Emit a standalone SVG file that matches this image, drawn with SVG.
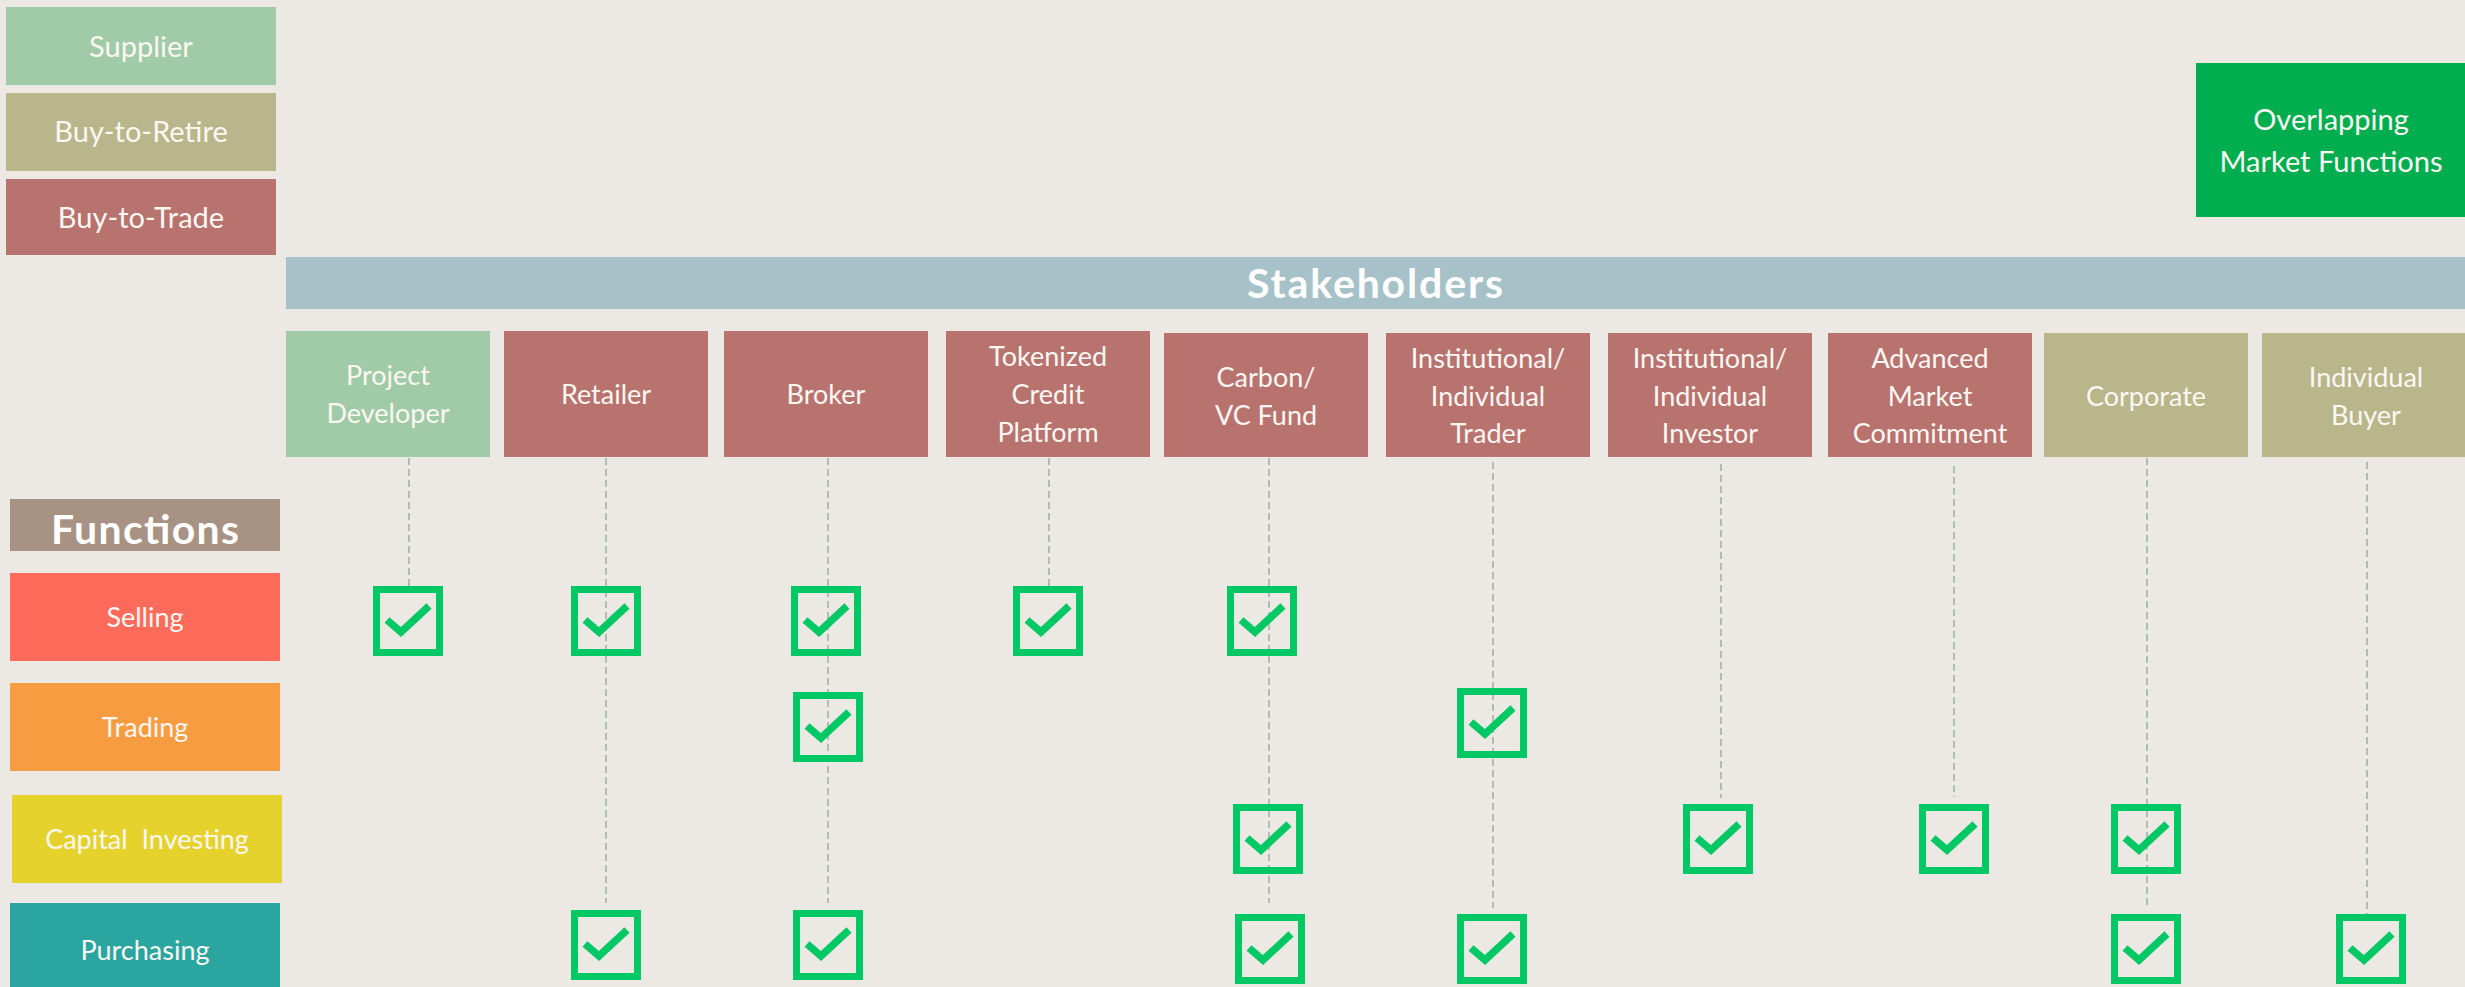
<svg xmlns="http://www.w3.org/2000/svg" xmlns:xlink="http://www.w3.org/1999/xlink" width="2465" height="987" viewBox="0 0 2465 987">
  <style>
    text { font-family: Lato, "Open Sans", "DejaVu Sans", sans-serif; fill: #fbf7f3; text-anchor: middle; }
    .lbl { font-size: 27px; }
    .leg { font-size: 29px; }
    .hdr { font-size: 41px; font-weight: bold; fill: #ffffff; }
    .supplier { fill: #a0cba6; }
    .retire { fill: #b9b68b; }
    .trade { fill: #b8736e; }
    .dash { stroke: #9db3ab; stroke-width: 1.6; stroke-dasharray: 7 4; fill: none; }
    .chk-box { fill: none; stroke: #00c864; stroke-width: 7; }
    .chk-mark { fill: none; stroke: #00c864; stroke-width: 7.5; stroke-linejoin: miter; stroke-linecap: butt; }
  </style>
  <defs>
    <g id="chk">
      <rect class="chk-box" x="3.5" y="3.5" width="63" height="63"/>
      <polyline class="chk-mark" points="14,34 28,46 56,20"/>
    </g>
  </defs>

  <rect width="2465" height="987" fill="#ece9e4"/>

  <!-- legend -->
  <g id="legend-supplier">
    <rect class="supplier" x="6" y="7" width="270" height="78"/>
    <text class="leg" x="141" y="57">Supplier</text>
  </g>
  <g id="legend-retire">
    <rect class="retire" x="6" y="93" width="270" height="78"/>
    <text class="leg" x="141" y="142">Buy-to-Retire</text>
  </g>
  <g id="legend-trade">
    <rect class="trade" x="6" y="179" width="270" height="76"/>
    <text class="leg" x="141" y="228">Buy-to-Trade</text>
  </g>
  <g id="overlap-key">
    <rect x="2196" y="63" width="269" height="154" fill="#00ae4f"/>
    <text class="leg" x="2331" y="130">Overlapping</text>
    <text class="leg" x="2331" y="172">Market Functions</text>
  </g>

  <!-- column header -->
  <g id="stakeholders-header">
    <rect x="286" y="257" width="2179" height="52" fill="#a6c2c8"/>
    <text class="hdr" x="1375" y="298" textLength="256" lengthAdjust="spacing">Stakeholders</text>
  </g>

  <!-- stakeholder columns -->
  <g id="project-developer">
    <rect class="supplier" x="286" y="331" width="204" height="126"/>
    <text class="lbl" x="388" y="385">Project</text>
    <text class="lbl" x="388" y="423">Developer</text>
  </g>
  <g id="retailer">
    <rect class="trade" x="504" y="331" width="204" height="126"/>
    <text class="lbl" x="606" y="404">Retailer</text>
  </g>
  <g id="broker">
    <rect class="trade" x="724" y="331" width="204" height="126"/>
    <text class="lbl" x="826" y="404">Broker</text>
  </g>
  <g id="tokenized-platform">
    <rect class="trade" x="946" y="331" width="204" height="126"/>
    <text class="lbl" x="1048" y="366">Tokenized</text>
    <text class="lbl" x="1048" y="404">Credit</text>
    <text class="lbl" x="1048" y="442">Platform</text>
  </g>
  <g id="carbon-vc-fund">
    <rect class="trade" x="1164" y="333" width="204" height="124"/>
    <text class="lbl" x="1266" y="387">Carbon/</text>
    <text class="lbl" x="1266" y="425">VC Fund</text>
  </g>
  <g id="institutional-trader">
    <rect class="trade" x="1386" y="333" width="204" height="124"/>
    <text class="lbl" x="1488" y="368">Institutional/</text>
    <text class="lbl" x="1488" y="406">Individual</text>
    <text class="lbl" x="1488" y="443">Trader</text>
  </g>
  <g id="institutional-investor">
    <rect class="trade" x="1608" y="333" width="204" height="124"/>
    <text class="lbl" x="1710" y="368">Institutional/</text>
    <text class="lbl" x="1710" y="406">Individual</text>
    <text class="lbl" x="1710" y="443">Investor</text>
  </g>
  <g id="advanced-market-commitment">
    <rect class="trade" x="1828" y="333" width="204" height="124"/>
    <text class="lbl" x="1930" y="368">Advanced</text>
    <text class="lbl" x="1930" y="406">Market</text>
    <text class="lbl" x="1930" y="443">Commitment</text>
  </g>
  <g id="corporate">
    <rect class="retire" x="2044" y="333" width="204" height="124"/>
    <text class="lbl" x="2146" y="406">Corporate</text>
  </g>
  <g id="individual-buyer">
    <rect class="retire" x="2262" y="333" width="203" height="124"/>
    <text class="lbl" x="2366" y="387">Individual</text>
    <text class="lbl" x="2366" y="425">Buyer</text>
  </g>

  <!-- function rows -->
  <g id="functions-header">
    <rect x="10" y="499" width="270" height="52" fill="#a89283"/>
    <text x="145" y="544" style="font-size:41px;font-weight:bold;fill:#ffffff" textLength="188" lengthAdjust="spacing">Functions</text>
  </g>
  <g id="selling">
    <rect x="10" y="573" width="270" height="88" fill="#ff6b5a"/>
    <text class="lbl" x="145" y="627">Selling</text>
  </g>
  <g id="trading">
    <rect x="10" y="683" width="270" height="88" fill="#f89c42"/>
    <text class="lbl" x="145" y="737">Trading</text>
  </g>
  <g id="capital-investing">
    <rect x="12" y="795" width="270" height="88" fill="#e6d22d"/>
    <text class="lbl" x="147" y="849" style="white-space:pre">Capital  Investing</text>
  </g>
  <g id="purchasing">
    <rect x="10" y="903" width="270" height="84" fill="#2aa5a0"/>
    <text class="lbl" x="145" y="960">Purchasing</text>
  </g>

  <!-- dashed drop lines from each stakeholder -->
  <g id="connectors">
    <line class="dash" x1="409" y1="458" x2="409" y2="586"/>
    <line class="dash" x1="606" y1="458" x2="606" y2="903"/>
    <line class="dash" x1="828" y1="458" x2="828" y2="903"/>
    <line class="dash" x1="1049" y1="458" x2="1049" y2="586"/>
    <line class="dash" x1="1269" y1="458" x2="1269" y2="903"/>
    <line class="dash" x1="1493" y1="462" x2="1493" y2="908"/>
    <line class="dash" x1="1721" y1="464" x2="1721" y2="798"/>
    <line class="dash" x1="1954" y1="466" x2="1954" y2="797"/>
    <line class="dash" x1="2147" y1="458" x2="2147" y2="909"/>
    <line class="dash" x1="2367" y1="462" x2="2367" y2="914"/>
  </g>

  <!-- check marks -->
  <g id="checks">
    <use xlink:href="#chk" x="373" y="586"/>
    <use xlink:href="#chk" x="571" y="586"/>
    <use xlink:href="#chk" x="791" y="586"/>
    <use xlink:href="#chk" x="1013" y="586"/>
    <use xlink:href="#chk" x="1227" y="586"/>

    <use xlink:href="#chk" x="793" y="692"/>
    <use xlink:href="#chk" x="1457" y="688"/>

    <use xlink:href="#chk" x="1233" y="804"/>
    <use xlink:href="#chk" x="1683" y="804"/>
    <use xlink:href="#chk" x="1919" y="804"/>
    <use xlink:href="#chk" x="2111" y="804"/>

    <use xlink:href="#chk" x="571" y="910"/>
    <use xlink:href="#chk" x="793" y="910"/>
    <use xlink:href="#chk" x="1235" y="914"/>
    <use xlink:href="#chk" x="1457" y="914"/>
    <use xlink:href="#chk" x="2111" y="914"/>
    <use xlink:href="#chk" x="2336" y="914"/>
  </g>
</svg>
